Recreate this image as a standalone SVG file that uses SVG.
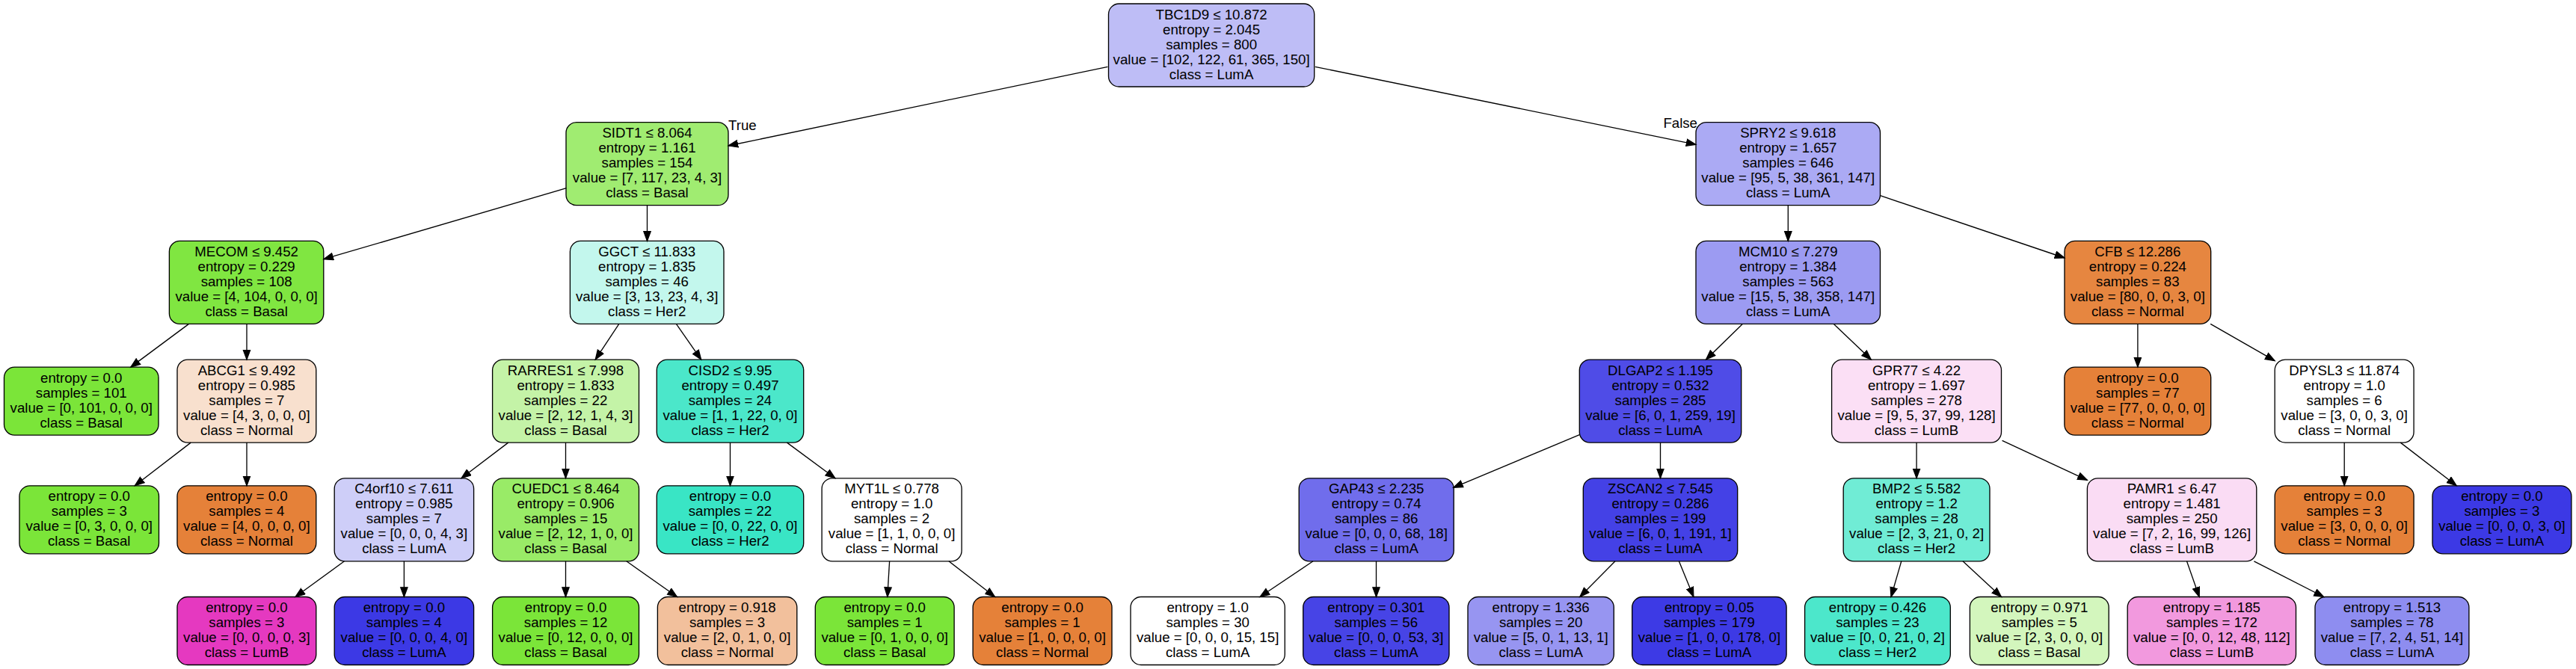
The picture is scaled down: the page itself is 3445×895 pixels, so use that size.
<svg xmlns="http://www.w3.org/2000/svg" width="3445" height="895" viewBox="0 0 3445 895">
<style>
.node rect { stroke: #000; stroke-width: 1.33; }
text { font-family: "Liberation Sans", Arial, Helvetica, sans-serif; font-size: 18.67px; fill: #000; }
.node text { text-anchor: middle; }
.edges line { stroke: #000; stroke-width: 1.33; marker-end: url(#arr); }
</style>
<defs>
<marker id="arr" markerUnits="userSpaceOnUse" markerWidth="16" markerHeight="12" refX="13.3" refY="5.5" orient="auto">
<path d="M0.6,0.8 L13.3,5.5 L0.6,10.2 z" fill="#000" stroke="#000" stroke-width="1.2"/>
</marker>
</defs>
<rect x="0" y="0" width="3445" height="895" fill="#fff"/>

<g id="n0" class="node"><rect x="1482.5" y="5" width="275.2" height="111" rx="14" fill="#bebdf6"/><text y="25.5"><tspan x="1620.1">TBC1D9 ≤ 10.872</tspan><tspan x="1620.1" dy="20">entropy = 2.045</tspan><tspan x="1620.1" dy="20">samples = 800</tspan><tspan x="1620.1" dy="20">value = [102, 122, 61, 365, 150]</tspan><tspan x="1620.1" dy="20">class = LumA</tspan></text></g>

<g id="n1" class="node"><rect x="757" y="163.7" width="217" height="111" rx="14" fill="#a0ec71"/><text y="184.2"><tspan x="865.5">SIDT1 ≤ 8.064</tspan><tspan x="865.5" dy="20">entropy = 1.161</tspan><tspan x="865.5" dy="20">samples = 154</tspan><tspan x="865.5" dy="20">value = [7, 117, 23, 4, 3]</tspan><tspan x="865.5" dy="20">class = Basal</tspan></text></g>

<g id="n2" class="node"><rect x="2268" y="163.7" width="246.5" height="111" rx="14" fill="#abaaf4"/><text y="184.2"><tspan x="2391.25">SPRY2 ≤ 9.618</tspan><tspan x="2391.25" dy="20">entropy = 1.657</tspan><tspan x="2391.25" dy="20">samples = 646</tspan><tspan x="2391.25" dy="20">value = [95, 5, 38, 361, 147]</tspan><tspan x="2391.25" dy="20">class = LumA</tspan></text></g>

<g id="n3" class="node"><rect x="226.4" y="322.4" width="206.4" height="111" rx="14" fill="#80e641"/><text y="342.9"><tspan x="329.6">MECOM ≤ 9.452</tspan><tspan x="329.6" dy="20">entropy = 0.229</tspan><tspan x="329.6" dy="20">samples = 108</tspan><tspan x="329.6" dy="20">value = [4, 104, 0, 0, 0]</tspan><tspan x="329.6" dy="20">class = Basal</tspan></text></g>

<g id="n4" class="node"><rect x="762.4" y="322.4" width="205.6" height="111" rx="14" fill="#c3f7ed"/><text y="342.9"><tspan x="865.2">GGCT ≤ 11.833</tspan><tspan x="865.2" dy="20">entropy = 1.835</tspan><tspan x="865.2" dy="20">samples = 46</tspan><tspan x="865.2" dy="20">value = [3, 13, 23, 4, 3]</tspan><tspan x="865.2" dy="20">class = Her2</tspan></text></g>

<g id="n5" class="node"><rect x="2268" y="322.4" width="246.5" height="111" rx="14" fill="#9c9bf2"/><text y="342.9"><tspan x="2391.25">MCM10 ≤ 7.279</tspan><tspan x="2391.25" dy="20">entropy = 1.384</tspan><tspan x="2391.25" dy="20">samples = 563</tspan><tspan x="2391.25" dy="20">value = [15, 5, 38, 358, 147]</tspan><tspan x="2391.25" dy="20">class = LumA</tspan></text></g>

<g id="n6" class="node"><rect x="2761" y="322.4" width="195.7" height="111" rx="14" fill="#e68640"/><text y="342.9"><tspan x="2858.85">CFB ≤ 12.286</tspan><tspan x="2858.85" dy="20">entropy = 0.224</tspan><tspan x="2858.85" dy="20">samples = 83</tspan><tspan x="2858.85" dy="20">value = [80, 0, 0, 3, 0]</tspan><tspan x="2858.85" dy="20">class = Normal</tspan></text></g>

<g id="n7" class="node"><rect x="5.5" y="491.1" width="206.5" height="91" rx="14" fill="#7be539"/><text y="511.6"><tspan x="108.75">entropy = 0.0</tspan><tspan x="108.75" dy="20">samples = 101</tspan><tspan x="108.75" dy="20">value = [0, 101, 0, 0, 0]</tspan><tspan x="108.75" dy="20">class = Basal</tspan></text></g>

<g id="n8" class="node"><rect x="237" y="481.1" width="185.8" height="111" rx="14" fill="#f8e0ce"/><text y="501.6"><tspan x="329.9">ABCG1 ≤ 9.492</tspan><tspan x="329.9" dy="20">entropy = 0.985</tspan><tspan x="329.9" dy="20">samples = 7</tspan><tspan x="329.9" dy="20">value = [4, 3, 0, 0, 0]</tspan><tspan x="329.9" dy="20">class = Normal</tspan></text></g>

<g id="n9" class="node"><rect x="658.6" y="481.1" width="195.9" height="111" rx="14" fill="#c4f3a7"/><text y="501.6"><tspan x="756.55">RARRES1 ≤ 7.998</tspan><tspan x="756.55" dy="20">entropy = 1.833</tspan><tspan x="756.55" dy="20">samples = 22</tspan><tspan x="756.55" dy="20">value = [2, 12, 1, 4, 3]</tspan><tspan x="756.55" dy="20">class = Basal</tspan></text></g>

<g id="n10" class="node"><rect x="878.3" y="481.1" width="196.4" height="111" rx="14" fill="#4be7ca"/><text y="501.6"><tspan x="976.5">CISD2 ≤ 9.95</tspan><tspan x="976.5" dy="20">entropy = 0.497</tspan><tspan x="976.5" dy="20">samples = 24</tspan><tspan x="976.5" dy="20">value = [1, 1, 22, 0, 0]</tspan><tspan x="976.5" dy="20">class = Her2</tspan></text></g>

<g id="n11" class="node"><rect x="2112.3" y="481.1" width="216.4" height="111" rx="14" fill="#4f4ce7"/><text y="501.6"><tspan x="2220.5">DLGAP2 ≤ 1.195</tspan><tspan x="2220.5" dy="20">entropy = 0.532</tspan><tspan x="2220.5" dy="20">samples = 285</tspan><tspan x="2220.5" dy="20">value = [6, 0, 1, 259, 19]</tspan><tspan x="2220.5" dy="20">class = LumA</tspan></text></g>

<g id="n12" class="node"><rect x="2449.6" y="481.1" width="226.9" height="111" rx="14" fill="#fbdff5"/><text y="501.6"><tspan x="2563.05">GPR77 ≤ 4.22</tspan><tspan x="2563.05" dy="20">entropy = 1.697</tspan><tspan x="2563.05" dy="20">samples = 278</tspan><tspan x="2563.05" dy="20">value = [9, 5, 37, 99, 128]</tspan><tspan x="2563.05" dy="20">class = LumB</tspan></text></g>

<g id="n13" class="node"><rect x="2760.9" y="491.1" width="195.8" height="91" rx="14" fill="#e58139"/><text y="511.6"><tspan x="2858.8">entropy = 0.0</tspan><tspan x="2858.8" dy="20">samples = 77</tspan><tspan x="2858.8" dy="20">value = [77, 0, 0, 0, 0]</tspan><tspan x="2858.8" dy="20">class = Normal</tspan></text></g>

<g id="n14" class="node"><rect x="3042.2" y="481.1" width="185.9" height="111" rx="14" fill="#ffffff"/><text y="501.6"><tspan x="3135.15">DPYSL3 ≤ 11.874</tspan><tspan x="3135.15" dy="20">entropy = 1.0</tspan><tspan x="3135.15" dy="20">samples = 6</tspan><tspan x="3135.15" dy="20">value = [3, 0, 0, 3, 0]</tspan><tspan x="3135.15" dy="20">class = Normal</tspan></text></g>

<g id="n15" class="node"><rect x="26" y="649.8" width="186.5" height="91" rx="14" fill="#7be539"/><text y="670.3"><tspan x="119.25">entropy = 0.0</tspan><tspan x="119.25" dy="20">samples = 3</tspan><tspan x="119.25" dy="20">value = [0, 3, 0, 0, 0]</tspan><tspan x="119.25" dy="20">class = Basal</tspan></text></g>

<g id="n16" class="node"><rect x="237" y="649.8" width="185.8" height="91" rx="14" fill="#e58139"/><text y="670.3"><tspan x="329.9">entropy = 0.0</tspan><tspan x="329.9" dy="20">samples = 4</tspan><tspan x="329.9" dy="20">value = [4, 0, 0, 0, 0]</tspan><tspan x="329.9" dy="20">class = Normal</tspan></text></g>

<g id="n17" class="node"><rect x="447.2" y="639.8" width="186.4" height="111" rx="14" fill="#cecef8"/><text y="660.3"><tspan x="540.4">C4orf10 ≤ 7.611</tspan><tspan x="540.4" dy="20">entropy = 0.985</tspan><tspan x="540.4" dy="20">samples = 7</tspan><tspan x="540.4" dy="20">value = [0, 0, 0, 4, 3]</tspan><tspan x="540.4" dy="20">class = LumA</tspan></text></g>

<g id="n18" class="node"><rect x="658.6" y="639.8" width="195.9" height="111" rx="14" fill="#99eb67"/><text y="660.3"><tspan x="756.55">CUEDC1 ≤ 8.464</tspan><tspan x="756.55" dy="20">entropy = 0.906</tspan><tspan x="756.55" dy="20">samples = 15</tspan><tspan x="756.55" dy="20">value = [2, 12, 1, 0, 0]</tspan><tspan x="756.55" dy="20">class = Basal</tspan></text></g>

<g id="n19" class="node"><rect x="878.3" y="649.8" width="196.4" height="91" rx="14" fill="#39e5c5"/><text y="670.3"><tspan x="976.5">entropy = 0.0</tspan><tspan x="976.5" dy="20">samples = 22</tspan><tspan x="976.5" dy="20">value = [0, 0, 22, 0, 0]</tspan><tspan x="976.5" dy="20">class = Her2</tspan></text></g>

<g id="n20" class="node"><rect x="1099.1" y="639.8" width="187" height="111" rx="14" fill="#ffffff"/><text y="660.3"><tspan x="1192.6">MYT1L ≤ 0.778</tspan><tspan x="1192.6" dy="20">entropy = 1.0</tspan><tspan x="1192.6" dy="20">samples = 2</tspan><tspan x="1192.6" dy="20">value = [1, 1, 0, 0, 0]</tspan><tspan x="1192.6" dy="20">class = Normal</tspan></text></g>

<g id="n21" class="node"><rect x="1737.2" y="639.8" width="207" height="111" rx="14" fill="#706dec"/><text y="660.3"><tspan x="1840.7">GAP43 ≤ 2.235</tspan><tspan x="1840.7" dy="20">entropy = 0.74</tspan><tspan x="1840.7" dy="20">samples = 86</tspan><tspan x="1840.7" dy="20">value = [0, 0, 0, 68, 18]</tspan><tspan x="1840.7" dy="20">class = LumA</tspan></text></g>

<g id="n22" class="node"><rect x="2117.3" y="639.8" width="206.4" height="111" rx="14" fill="#4441e6"/><text y="660.3"><tspan x="2220.5">ZSCAN2 ≤ 7.545</tspan><tspan x="2220.5" dy="20">entropy = 0.286</tspan><tspan x="2220.5" dy="20">samples = 199</tspan><tspan x="2220.5" dy="20">value = [6, 0, 1, 191, 1]</tspan><tspan x="2220.5" dy="20">class = LumA</tspan></text></g>

<g id="n23" class="node"><rect x="2465.2" y="639.8" width="195.8" height="111" rx="14" fill="#70ecd5"/><text y="660.3"><tspan x="2563.1">BMP2 ≤ 5.582</tspan><tspan x="2563.1" dy="20">entropy = 1.2</tspan><tspan x="2563.1" dy="20">samples = 28</tspan><tspan x="2563.1" dy="20">value = [2, 3, 21, 0, 2]</tspan><tspan x="2563.1" dy="20">class = Her2</tspan></text></g>

<g id="n24" class="node"><rect x="2791.4" y="639.8" width="226.4" height="111" rx="14" fill="#fadcf4"/><text y="660.3"><tspan x="2904.6">PAMR1 ≤ 6.47</tspan><tspan x="2904.6" dy="20">entropy = 1.481</tspan><tspan x="2904.6" dy="20">samples = 250</tspan><tspan x="2904.6" dy="20">value = [7, 2, 16, 99, 126]</tspan><tspan x="2904.6" dy="20">class = LumB</tspan></text></g>

<g id="n25" class="node"><rect x="3042.2" y="649.8" width="185.9" height="91" rx="14" fill="#e58139"/><text y="670.3"><tspan x="3135.15">entropy = 0.0</tspan><tspan x="3135.15" dy="20">samples = 3</tspan><tspan x="3135.15" dy="20">value = [3, 0, 0, 0, 0]</tspan><tspan x="3135.15" dy="20">class = Normal</tspan></text></g>

<g id="n26" class="node"><rect x="3253" y="649.8" width="185.9" height="91" rx="14" fill="#3c39e5"/><text y="670.3"><tspan x="3345.95">entropy = 0.0</tspan><tspan x="3345.95" dy="20">samples = 3</tspan><tspan x="3345.95" dy="20">value = [0, 0, 0, 3, 0]</tspan><tspan x="3345.95" dy="20">class = LumA</tspan></text></g>

<g id="n27" class="node"><rect x="237" y="798.5" width="185.8" height="91" rx="14" fill="#e539c0"/><text y="819"><tspan x="329.9">entropy = 0.0</tspan><tspan x="329.9" dy="20">samples = 3</tspan><tspan x="329.9" dy="20">value = [0, 0, 0, 0, 3]</tspan><tspan x="329.9" dy="20">class = LumB</tspan></text></g>

<g id="n28" class="node"><rect x="447.2" y="798.5" width="186.4" height="91" rx="14" fill="#3c39e5"/><text y="819"><tspan x="540.4">entropy = 0.0</tspan><tspan x="540.4" dy="20">samples = 4</tspan><tspan x="540.4" dy="20">value = [0, 0, 0, 4, 0]</tspan><tspan x="540.4" dy="20">class = LumA</tspan></text></g>

<g id="n29" class="node"><rect x="658.6" y="798.5" width="195.9" height="91" rx="14" fill="#7be539"/><text y="819"><tspan x="756.55">entropy = 0.0</tspan><tspan x="756.55" dy="20">samples = 12</tspan><tspan x="756.55" dy="20">value = [0, 12, 0, 0, 0]</tspan><tspan x="756.55" dy="20">class = Basal</tspan></text></g>

<g id="n30" class="node"><rect x="879.4" y="798.5" width="186.4" height="91" rx="14" fill="#f2c09c"/><text y="819"><tspan x="972.6">entropy = 0.918</tspan><tspan x="972.6" dy="20">samples = 3</tspan><tspan x="972.6" dy="20">value = [2, 0, 1, 0, 0]</tspan><tspan x="972.6" dy="20">class = Normal</tspan></text></g>

<g id="n31" class="node"><rect x="1090.3" y="798.5" width="185.8" height="91" rx="14" fill="#7be539"/><text y="819"><tspan x="1183.2">entropy = 0.0</tspan><tspan x="1183.2" dy="20">samples = 1</tspan><tspan x="1183.2" dy="20">value = [0, 1, 0, 0, 0]</tspan><tspan x="1183.2" dy="20">class = Basal</tspan></text></g>

<g id="n32" class="node"><rect x="1301.1" y="798.5" width="185.9" height="91" rx="14" fill="#e58139"/><text y="819"><tspan x="1394.05">entropy = 0.0</tspan><tspan x="1394.05" dy="20">samples = 1</tspan><tspan x="1394.05" dy="20">value = [1, 0, 0, 0, 0]</tspan><tspan x="1394.05" dy="20">class = Normal</tspan></text></g>

<g id="n33" class="node"><rect x="1512" y="798.5" width="206.3" height="91" rx="14" fill="#ffffff"/><text y="819"><tspan x="1615.15">entropy = 1.0</tspan><tspan x="1615.15" dy="20">samples = 30</tspan><tspan x="1615.15" dy="20">value = [0, 0, 0, 15, 15]</tspan><tspan x="1615.15" dy="20">class = LumA</tspan></text></g>

<g id="n34" class="node"><rect x="1742.7" y="798.5" width="195.3" height="91" rx="14" fill="#4744e6"/><text y="819"><tspan x="1840.35">entropy = 0.301</tspan><tspan x="1840.35" dy="20">samples = 56</tspan><tspan x="1840.35" dy="20">value = [0, 0, 0, 53, 3]</tspan><tspan x="1840.35" dy="20">class = LumA</tspan></text></g>

<g id="n35" class="node"><rect x="1963" y="798.5" width="195.3" height="91" rx="14" fill="#9795f1"/><text y="819"><tspan x="2060.65">entropy = 1.336</tspan><tspan x="2060.65" dy="20">samples = 20</tspan><tspan x="2060.65" dy="20">value = [5, 0, 1, 13, 1]</tspan><tspan x="2060.65" dy="20">class = LumA</tspan></text></g>

<g id="n36" class="node"><rect x="2182.7" y="798.5" width="206.4" height="91" rx="14" fill="#3d3ae5"/><text y="819"><tspan x="2285.9">entropy = 0.05</tspan><tspan x="2285.9" dy="20">samples = 179</tspan><tspan x="2285.9" dy="20">value = [1, 0, 0, 178, 0]</tspan><tspan x="2285.9" dy="20">class = LumA</tspan></text></g>

<g id="n37" class="node"><rect x="2413.6" y="798.5" width="194.7" height="91" rx="14" fill="#4ce7cb"/><text y="819"><tspan x="2510.95">entropy = 0.426</tspan><tspan x="2510.95" dy="20">samples = 23</tspan><tspan x="2510.95" dy="20">value = [0, 0, 21, 0, 2]</tspan><tspan x="2510.95" dy="20">class = Her2</tspan></text></g>

<g id="n38" class="node"><rect x="2634.4" y="798.5" width="185.8" height="91" rx="14" fill="#d3f6bd"/><text y="819"><tspan x="2727.3">entropy = 0.971</tspan><tspan x="2727.3" dy="20">samples = 5</tspan><tspan x="2727.3" dy="20">value = [2, 3, 0, 0, 0]</tspan><tspan x="2727.3" dy="20">class = Basal</tspan></text></g>

<g id="n39" class="node"><rect x="2845.2" y="798.5" width="225.3" height="91" rx="14" fill="#f299de"/><text y="819"><tspan x="2957.85">entropy = 1.185</tspan><tspan x="2957.85" dy="20">samples = 172</tspan><tspan x="2957.85" dy="20">value = [0, 0, 12, 48, 112]</tspan><tspan x="2957.85" dy="20">class = LumB</tspan></text></g>

<g id="n40" class="node"><rect x="3096" y="798.5" width="205.9" height="91" rx="14" fill="#8e8df0"/><text y="819"><tspan x="3198.95">entropy = 1.513</tspan><tspan x="3198.95" dy="20">samples = 78</tspan><tspan x="3198.95" dy="20">value = [7, 2, 4, 51, 14]</tspan><tspan x="3198.95" dy="20">class = LumA</tspan></text></g>

<g id="edges" class="edges">
<line x1="1481.4" y1="89.3" x2="974" y2="195"/>
<line x1="1758.8" y1="89.3" x2="2268" y2="193.3"/>
<line x1="757.4" y1="251.7" x2="432.8" y2="346.7"/>
<line x1="865.5" y1="274.7" x2="865.5" y2="322.4"/>
<line x1="2391.3" y1="274.7" x2="2391.3" y2="322.4"/>
<line x1="2514.5" y1="261.7" x2="2761" y2="345"/>
<line x1="252.5" y1="433.4" x2="174.8" y2="491.1"/>
<line x1="330" y1="433.4" x2="330" y2="481.1"/>
<line x1="827.8" y1="433.4" x2="796.2" y2="481.1"/>
<line x1="904.4" y1="433.4" x2="937.7" y2="481.1"/>
<line x1="2330.3" y1="433.4" x2="2281.5" y2="481.1"/>
<line x1="2452.4" y1="433.4" x2="2502.3" y2="481.1"/>
<line x1="2858.9" y1="433.4" x2="2858.9" y2="491.1"/>
<line x1="2956.2" y1="433.4" x2="3042.2" y2="482.7"/>
<line x1="255.2" y1="592.1" x2="180.3" y2="649.8"/>
<line x1="330" y1="592.1" x2="330" y2="649.8"/>
<line x1="679.7" y1="592.1" x2="617" y2="639.8"/>
<line x1="756.5" y1="592.1" x2="756.5" y2="639.8"/>
<line x1="976.5" y1="592.1" x2="976.5" y2="649.8"/>
<line x1="1052.5" y1="592.1" x2="1116.9" y2="639.8"/>
<line x1="2112.3" y1="581.7" x2="1943.6" y2="652.3"/>
<line x1="2220.5" y1="592.1" x2="2220.5" y2="639.8"/>
<line x1="2563.1" y1="592.1" x2="2563.1" y2="639.8"/>
<line x1="2677.6" y1="589.3" x2="2791.4" y2="642.3"/>
<line x1="3135.2" y1="592.1" x2="3135.2" y2="649.8"/>
<line x1="3210.3" y1="592.1" x2="3285.2" y2="649.8"/>
<line x1="460.5" y1="750.8" x2="395" y2="798.5"/>
<line x1="540.4" y1="750.8" x2="540.4" y2="798.5"/>
<line x1="756.5" y1="750.8" x2="756.5" y2="798.5"/>
<line x1="837.8" y1="750.8" x2="905.5" y2="798.5"/>
<line x1="1189.6" y1="750.8" x2="1186.8" y2="798.5"/>
<line x1="1268.9" y1="750.8" x2="1330.5" y2="798.5"/>
<line x1="1756" y1="750.8" x2="1685" y2="798.5"/>
<line x1="1840.5" y1="750.8" x2="1840.5" y2="798.5"/>
<line x1="2160" y1="750.8" x2="2112.8" y2="798.5"/>
<line x1="2245.4" y1="750.8" x2="2264.9" y2="798.5"/>
<line x1="2542.8" y1="750.8" x2="2529" y2="798.5"/>
<line x1="2625" y1="750.8" x2="2676.5" y2="798.5"/>
<line x1="2924.5" y1="750.8" x2="2941.2" y2="798.5"/>
<line x1="3014.4" y1="750.8" x2="3107.6" y2="798.5"/>
<text x="974" y="174">True</text>
<text x="2270" y="171" text-anchor="end">False</text>
</g>
</svg>
